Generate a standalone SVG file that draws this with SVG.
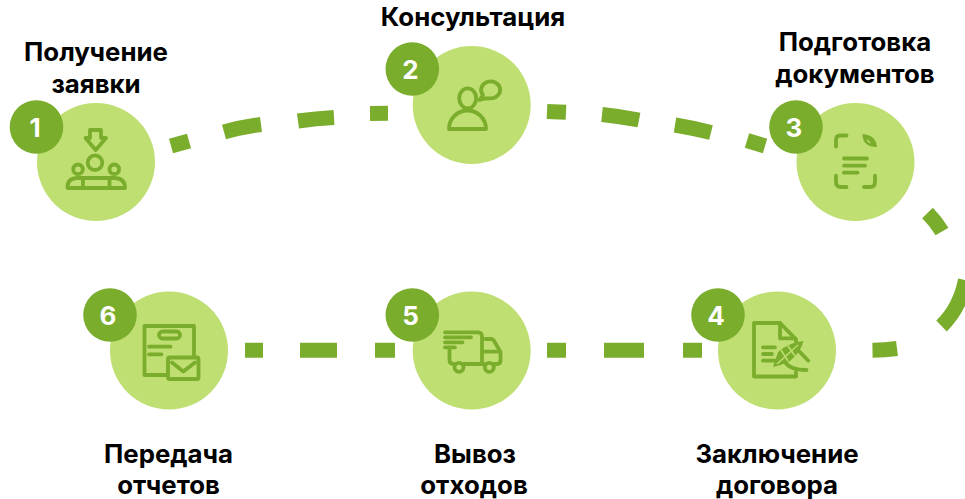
<svg xmlns="http://www.w3.org/2000/svg" width="965" height="499" viewBox="0 0 965 499">
<style>
.c{fill:#bfdf72}
.b{fill:#7bad2c}
.n{fill:#fff;font:700 26px Inter,"Liberation Sans",sans-serif;text-anchor:middle}
.t{fill:#000;font:700 25.800px Inter,"Liberation Sans",sans-serif;text-anchor:middle}
.i{fill:none;stroke:#7bad2c;stroke-width:3.800;stroke-linecap:round;stroke-linejoin:round}
.f{fill:#7bad2c}
.d{fill:none;stroke:#7bad2c;stroke-width:15}
</style>
<rect width="965" height="499" fill="#fff"/>
<g id="connectors" class="d">
<path d="M171,146L189,141M224,132Q242,127 261,124.500M298,121Q316,118.500 334,117.500M370,113.500L388,113.300M547,111.500L566,112.300M602,114.500Q621,116.500 639,120M675,125Q693,128 711,132.500M747,140.500L765,146"/>
<path d="M927.500,213Q936,221.500 942,231.500M965.500,280Q960,308 941.500,326"/>
<path d="M872.500,350.200Q885,350 897,348.500"/>
<path d="M245,350.300H263M300,350.300H337M375,350.300H395M547,350.300H566M604,350.300H644M683,350.300H702"/>
</g>
<g id="node1">
<circle class="c" cx="96" cy="162" r="59"/>
<circle class="b" cx="36.500" cy="127" r="26.800"/>
<text class="n" x="35" y="137">1</text>
<path class="i" d="M90,130H101V138H106L95.700,150L85.500,138H90Z"/>
<circle class="i" cx="95" cy="162.700" r="7.300"/>
<circle class="i" cx="78" cy="169.300" r="4.800"/>
<circle class="i" cx="114.300" cy="169.300" r="4.800"/>
<path class="i" d="M67.500,188Q67,178 78,178H114Q125,178 125,188ZM83,188V178.500M109.500,188V178.500"/>
<text class="t" x="96" y="60.500">Получение</text>
<text class="t" x="96" y="92.500">заявки</text>
</g>
<g id="node2">
<circle class="c" cx="471.700" cy="105" r="59"/>
<circle class="b" cx="412.300" cy="69" r="26.800"/>
<text class="n" x="410.500" y="79">2</text>
<ellipse class="i" cx="467.700" cy="98.300" rx="8.500" ry="10"/>
<path class="i" d="M449,129A18.500,18.500 0 0 1 486,129Z"/>
<path class="i" d="M479.500,100L483,95A9.500,8.500 0 1 1 489.800,98.400L485,98.500Z"/>
<text class="t" x="473" y="25.500">Консультация</text>
</g>
<g id="node3">
<circle class="c" cx="855.500" cy="162" r="59"/>
<circle class="b" cx="796" cy="127" r="26.800"/>
<text class="n" x="794" y="137">3</text>
<path class="i" d="M836,146.500V140Q836,135.500 840.500,135.500H846.500M836,175.700V182Q836,187 841,187H846.500M875,175.700V182Q875,187 870,187H864"/>
<path class="f" d="M862.500,134Q876,135 877,147Q862.500,147 862.500,134Z"/>
<path fill="#bfdf72" d="M866.500,139Q870,141 871,143.500Q867.500,143 866.500,139Z"/>
<path class="i" d="M844,158.500H867M844,165.700H865M844,172.700H857.500"/>
<text class="t" x="855" y="50.500">Подготовка</text>
<text class="t" x="855" y="82.500">документов</text>
</g>
<g id="node4">
<circle class="c" cx="777" cy="350.500" r="59"/>
<circle class="b" cx="718" cy="315" r="26.800"/>
<text class="n" x="716" y="325">4</text>
<path class="i" d="M796,372V376.500H754V323H780L796,339.300V342"/>
<path class="i" d="M780,323V338.300H795"/>
<path class="i" d="M763,347.300H775M763,354H772M763,360.700H775"/>
<path class="f" d="M773,367L778,352Q790,342 803.500,341Q801,352 790,361Q782,365 773,367Z"/>
<path fill="none" stroke="#bfdf72" stroke-width="1.500" d="M777,364L798,345M781,350L788,361M788,346L795,356"/>
<path class="i" d="M797,349L808.300,360.700M785,362Q790,370 806.500,370"/>
<text class="t" x="777" y="462.500">Заключение</text>
<text class="t" x="777" y="494">договора</text>
</g>
<g id="node5">
<circle class="c" cx="471.700" cy="350.500" r="59"/>
<circle class="b" cx="412.300" cy="315" r="26.800"/>
<text class="n" x="410.500" y="325">5</text>
<path class="i" d="M445,332.300H478Q482,332.300 482,336.500V363.500M445,337.300H471M445,342.300H462.500M445,347.300H455M449.500,347.300V360Q449.500,364 454,364H454M464,364H484M494,364H497Q500.500,364 500.500,360V352L493.500,340Q492.500,339 491,339H485.500M485,351.700H500"/>
<circle class="i" cx="459" cy="367.300" r="4.500"/>
<circle class="i" cx="489.300" cy="367.300" r="4.500"/>
<text class="t" x="475" y="462.500">Вывоз</text>
<text class="t" x="474" y="493.500">отходов</text>
</g>
<g id="node6">
<circle class="c" cx="169" cy="350.500" r="59"/>
<circle class="b" cx="110" cy="315" r="26.800"/>
<text class="n" x="108" y="325">6</text>
<path class="i" d="M167,375H144.500V326H194V357"/>
<rect class="i" x="159" y="331.500" width="21" height="7" rx="3.500"/>
<path class="i" d="M149,346.700H170.500M149,354.300H161.500"/>
<rect class="i" x="168" y="357.500" width="30.500" height="21.500" rx="1.500"/>
<path class="i" d="M172,362.500L183.300,371.500L195,362.500"/>
<text class="t" x="168.500" y="462.500">Передача</text>
<text class="t" x="168.500" y="494">отчетов</text>
</g>
</svg>
